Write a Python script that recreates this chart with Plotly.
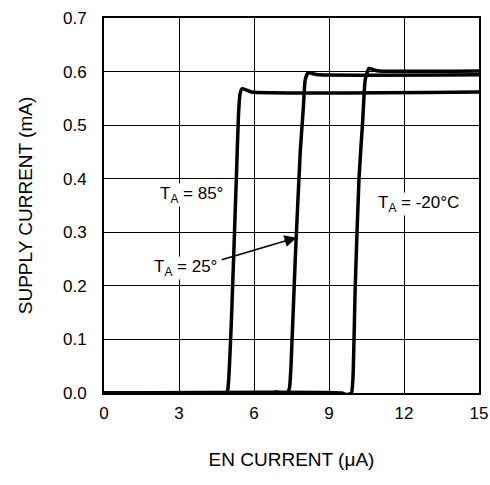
import plotly.graph_objects as go

# EN current (uA) / supply current (mA) for each temperature
x_85 = [0, 4.5, 4.72, 4.82, 4.92, 4.98, 5.1, 5.3, 5.38, 5.44, 5.52, 5.68, 5.9, 15]
y_85 = [0, 0, -0.002, -0.004, -0.002, 0.02, 0.14, 0.41, 0.52, 0.558, 0.568, 0.566, 0.562, 0.562]

x_25 = [0, 6.7, 6.9, 7.05, 7.18, 7.32, 7.42, 7.48, 7.65, 7.85, 7.97, 8.05, 8.17, 8.35, 8.6, 15]
y_25 = [0, 0, 0.002, 0.0, -0.003, -0.002, 0.01, 0.05, 0.25, 0.45, 0.53, 0.585, 0.598, 0.596, 0.594, 0.594]

x_m20 = [0, 9.5, 9.68, 9.8, 9.9, 9.96, 10.05, 10.2, 10.35, 10.45, 10.6, 10.8, 11.0, 15]
y_m20 = [0, 0, -0.003, -0.002, 0.0, 0.03, 0.2, 0.4, 0.51, 0.585, 0.606, 0.603, 0.601, 0.601]

x_ticks = [0, 3, 6, 9, 12, 15]
y_ticks = [0.0, 0.1, 0.2, 0.3, 0.4, 0.5, 0.6, 0.7]
y_tick_labels = ["0.0", "0.1", "0.2", "0.3", "0.4", "0.5", "0.6", "0.7"]

FONT = "Liberation Sans, Arial, Helvetica, sans-serif"

fig = go.Figure()
for xs, ys in [(x_85, y_85), (x_25, y_25), (x_m20, y_m20)]:
    fig.add_trace(go.Scatter(x=xs, y=ys, mode="lines",
                             line=dict(color="black", width=3.5, shape="spline", smoothing=0.5),
                             showlegend=False, hoverinfo="skip", cliponaxis=False))

ann_font = dict(size=17, color="black", family=FONT)
fig.add_annotation(x=3.48, y=0.37, text="T<sub>A</sub> = 85°", showarrow=False,
                   font=ann_font, bgcolor="white", borderpad=0)
fig.add_annotation(x=3.25, y=0.233, text="T<sub>A</sub> = 25°", showarrow=False,
                   font=ann_font, bgcolor="white", borderpad=0)
fig.add_annotation(x=12.57, y=0.353, text="T<sub>A</sub> = -20°C", showarrow=False,
                   font=ann_font, bgcolor="white", borderpad=0)
fig.add_annotation(x=7.7, y=0.29, ax=4.65, ay=0.248, axref="x", ayref="y", xref="x", yref="y",
                   text="", showarrow=True, arrowhead=2, arrowsize=1.6, arrowwidth=1.5,
                   arrowcolor="black", standoff=0)

fig.update_layout(
    width=490, height=485,
    margin=dict(l=104, r=11, t=18, b=92, autoexpand=False),
    paper_bgcolor="white", plot_bgcolor="white",
    font=dict(family=FONT, size=17, color="black"),
    xaxis=dict(range=[0, 15], tickvals=x_ticks, ticktext=[str(v) for v in x_ticks],
               showgrid=True, gridcolor="black", gridwidth=1.2,
               showline=True, linecolor="black", linewidth=2, mirror=True,
               zeroline=False, ticks="", ticklabelstandoff=4, automargin=False,
               title=dict(text="EN CURRENT (μA)", standoff=30, font=dict(size=19))),
    yaxis=dict(range=[0, 0.7], tickvals=y_ticks, ticktext=y_tick_labels,
               showgrid=True, gridcolor="black", gridwidth=1.2,
               showline=True, linecolor="black", linewidth=2, mirror=True,
               zeroline=False, ticks="", ticklabelstandoff=12, automargin=False,
               title=dict(text="SUPPLY CURRENT (mA)", standoff=25, font=dict(size=19))),
)

fig.write_html("out.html", config={"displayModeBar": False},
               post_script="document.body.style.margin='0';document.body.style.overflow='hidden';")
